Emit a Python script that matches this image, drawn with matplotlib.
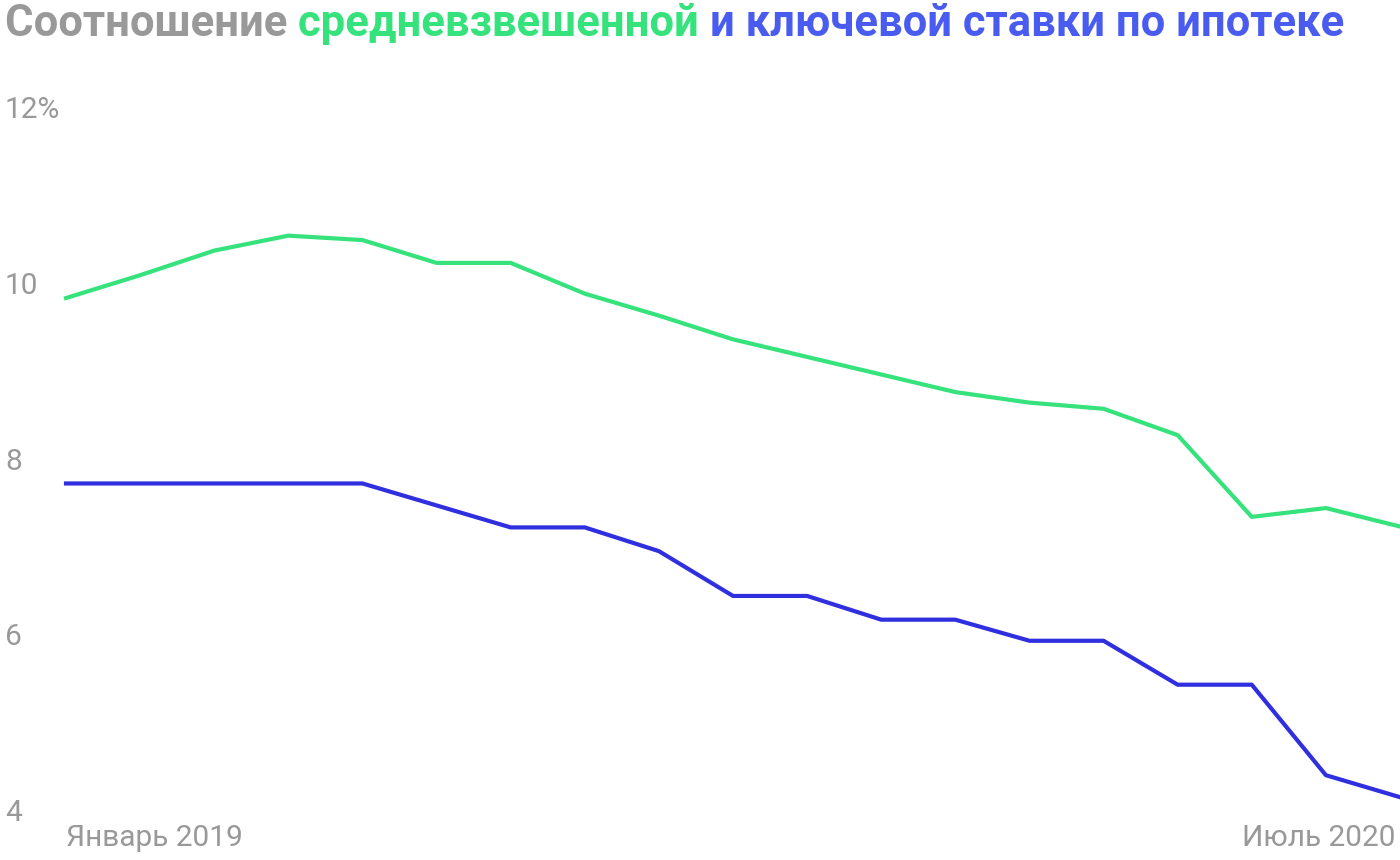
import matplotlib
matplotlib.use("Agg")
import matplotlib.pyplot as plt

months = list(range(19))
weighted = [9.86,10.12,10.40,10.57,10.52,10.26,10.26,9.91,9.66,9.39,9.19,8.99,8.79,8.67,8.60,8.30,7.37,7.47,7.26]
key = [7.75,7.75,7.75,7.75,7.75,7.50,7.25,7.25,6.98,6.47,6.47,6.20,6.20,5.96,5.96,5.46,5.46,4.43,4.18]
yticks = [4,6,8,10,12]
ylabels = ["4","6","8","10","12%"]
xlabels = ["Январь 2019","Июль 2020"]

W,H = 1400,860
fig = plt.figure(figsize=(14,8.6), dpi=100)
ax = fig.add_axes([66/W, (H-813)/H, 1-66/W, (813-110)/H])
ax.plot(months, weighted, color="#36e27b", lw=3, clip_on=False)
ax.plot(months, key, color="#2f2fe0", lw=3, clip_on=False)
ax.set_xlim(0,18); ax.set_ylim(4,12)
ax.axis("off")
gray="#999999"
fs = 21.5
for v,l in zip(yticks,ylabels):
    fig.text(5/W, (H-(813-(v-4)*703/8))/H, l, color=gray, fontsize=fs, family="Roboto", va="center", ha="left")
fig.text(66/W, (H-838)/H, xlabels[0], color=gray, fontsize=fs, family="Roboto", va="center", ha="left")
fig.text(1395/W, (H-838)/H, xlabels[1], color=gray, fontsize=fs, family="Roboto", va="center", ha="right")

parts = [("Соотношение ", "#999999"), ("средневзвешенной ", "#36e27b"), ("и ключевой ставки по ипотеке", "#4a5cf0")]
fig.canvas.draw()
r = fig.canvas.get_renderer()
x = 5
for s,c in parts:
    t = fig.text(x/W, (H-24)/H, s, color=c, fontsize=31.4, family="Roboto", weight="bold", va="center", ha="left")
    bb = t.get_window_extent(r)
    x += bb.width
fig.savefig("out.png", dpi=100)
